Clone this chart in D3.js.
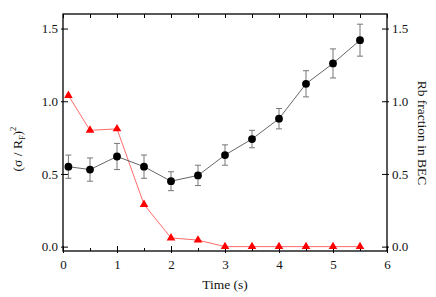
<!DOCTYPE html>
<html>
<head>
<meta charset="utf-8">
<script src="https://cdn.jsdelivr.net/npm/d3@7"></script>
<style>
  body { margin: 0; background: #fff; }
  svg { display: block; font-family: "Liberation Serif", "DejaVu Serif", serif; }
</style>
</head>
<body>
<div id="chart"></div>
<script>
"use strict"

// time points (s)
let times = [0.1, 0.5, 1, 1.5, 2, 2.5, 3, 3.5, 4, 4.5, 5, 5.5];
// (sigma / R_F)^2 with error bars
let widthValues = [0.55, 0.53, 0.62, 0.55, 0.45, 0.49, 0.63, 0.74, 0.88, 1.12, 1.26, 1.42];
let widthErrors = [0.08, 0.08, 0.09, 0.08, 0.065, 0.07, 0.07, 0.06, 0.07, 0.09, 0.10, 0.11];
// Rb fraction in BEC
let becValues = [1.04, 0.80, 0.81, 0.29, 0.06, 0.045, 0.0, 0.0, 0.0, 0.0, 0.0, 0.0];

let xTicks = [0, 1, 2, 3, 4, 5, 6];
let xMinorTicks = [0.5, 1.5, 2.5, 3.5, 4.5, 5.5];
let yTicks = [0.0, 0.5, 1.0, 1.5];

let svg = d3.select("#chart")
    .append("svg")
    .attr("width", 436)
    .attr("height", 297);

let plotLeft = 63, plotRight = 387, plotTop = 14, plotBottom = 251;

let x = d3.scaleLinear().domain([0, 6]).range([plotLeft, plotRight]);
let yLeft = d3.scaleLinear().domain([-0.03, 1.6]).range([plotBottom, plotTop]);
let yRight = d3.scaleLinear().domain([-0.03, 1.6]).range([plotBottom, plotTop]);

/* frame */
svg.append("rect")
    .attr("x", plotLeft)
    .attr("y", plotTop)
    .attr("width", plotRight - plotLeft)
    .attr("height", plotBottom - plotTop)
    .attr("fill", "none")
    .attr("stroke", "black")
    .attr("stroke-width", 1.3);

function styleAxis(g) {
    g.attr("font-family", null);
    g.select(".domain").remove();
    g.selectAll("line").attr("stroke", "black").attr("stroke-width", 1);
    g.selectAll("text")
        .attr("font-size", 13)
        .attr("fill", "#111");
}

/* bottom axis, major ticks cross the line */
let xAxis = svg.append("g")
    .attr("transform", "translate(0," + plotBottom + ")")
    .call(d3.axisBottom(x).tickValues(xTicks).tickFormat(d3.format("d")).tickSize(2).tickPadding(7));
styleAxis(xAxis);
xAxis.selectAll(".tick line").attr("y1", -5).attr("y2", 2);

let xMinor = svg.append("g")
    .attr("transform", "translate(0," + plotBottom + ")")
    .call(d3.axisBottom(x).tickValues(xMinorTicks).tickFormat("").tickSize(-3));
styleAxis(xMinor);

/* top axis, inward ticks only */
let xTop = svg.append("g")
    .attr("transform", "translate(0," + plotTop + ")")
    .call(d3.axisTop(x).tickValues(xTicks.concat(xMinorTicks)).tickFormat("").tickSize(-4));
styleAxis(xTop);

/* left axis */
let yAxisLeft = svg.append("g")
    .attr("transform", "translate(" + plotLeft + ",0)")
    .call(d3.axisLeft(yLeft).tickValues(yTicks).tickFormat(d3.format(".1f")).tickSize(2).tickPadding(3));
styleAxis(yAxisLeft);
yAxisLeft.selectAll(".tick line").attr("x1", -2).attr("x2", 5);

/* right axis */
let yAxisRight = svg.append("g")
    .attr("transform", "translate(" + plotRight + ",0)")
    .call(d3.axisRight(yRight).tickValues(yTicks).tickFormat(d3.format(".1f")).tickSize(2).tickPadding(3));
styleAxis(yAxisRight);
yAxisRight.selectAll(".tick line").attr("x1", -5).attr("x2", 2);

/* axis titles */
svg.append("text")
    .attr("x", (plotLeft + plotRight) / 2)
    .attr("y", 289)
    .attr("text-anchor", "middle")
    .attr("font-size", 13.5)
    .attr("fill", "#111")
    .text("Time (s)");

let leftTitle = svg.append("text")
    .attr("transform", "translate(22,149) rotate(-90)")
    .attr("text-anchor", "middle")
    .attr("font-size", 13.5)
    .attr("fill", "#111");
leftTitle.append("tspan").text("(σ / R");
leftTitle.append("tspan").attr("font-size", 8.5).attr("dy", 3).text("F");
leftTitle.append("tspan").attr("dy", -3).text(")");
leftTitle.append("tspan").attr("font-size", 8.5).attr("dy", -6).text("2");

svg.append("text")
    .attr("transform", "translate(418,133) rotate(90)")
    .attr("text-anchor", "middle")
    .attr("font-size", 13.5)
    .attr("fill", "#111")
    .text("Rb fraction in BEC");

/* BEC fraction series (red) */
let bec = times.map((t, i) => ({ t: t, v: becValues[i] }));

svg.append("path")
    .datum(bec)
    .attr("d", d3.line().x(d => x(d.t)).y(d => yRight(d.v)))
    .attr("fill", "none")
    .attr("stroke", "#ff5a5a")
    .attr("stroke-width", 0.9);

svg.selectAll(".tri")
    .data(bec)
    .enter()
    .append("path")
    .attr("class", "tri")
    .attr("transform", d => "translate(" + x(d.t) + "," + yRight(d.v) + ")")
    .attr("d", d3.symbol().type(d3.symbolTriangle).size(32))
    .attr("fill", "#ff0000");

/* width series (black) */
let widths = times.map((t, i) => ({ t: t, v: widthValues[i], e: widthErrors[i] }));

svg.append("path")
    .datum(widths)
    .attr("d", d3.line().x(d => x(d.t)).y(d => yLeft(d.v)))
    .attr("fill", "none")
    .attr("stroke", "#555")
    .attr("stroke-width", 0.9);

let bars = svg.selectAll(".err")
    .data(widths)
    .enter()
    .append("g")
    .attr("class", "err")
    .attr("stroke", "#777")
    .attr("stroke-width", 1);

bars.append("line")
    .attr("x1", d => x(d.t)).attr("x2", d => x(d.t))
    .attr("y1", d => yLeft(d.v - d.e)).attr("y2", d => yLeft(d.v + d.e));
bars.append("line")
    .attr("x1", d => x(d.t) - 3).attr("x2", d => x(d.t) + 3)
    .attr("y1", d => yLeft(d.v + d.e)).attr("y2", d => yLeft(d.v + d.e));
bars.append("line")
    .attr("x1", d => x(d.t) - 3).attr("x2", d => x(d.t) + 3)
    .attr("y1", d => yLeft(d.v - d.e)).attr("y2", d => yLeft(d.v - d.e));

svg.selectAll(".dot")
    .data(widths)
    .enter()
    .append("circle")
    .attr("class", "dot")
    .attr("cx", d => x(d.t))
    .attr("cy", d => yLeft(d.v))
    .attr("r", 3.9)
    .attr("fill", "black");
</script>
</body>
</html>
